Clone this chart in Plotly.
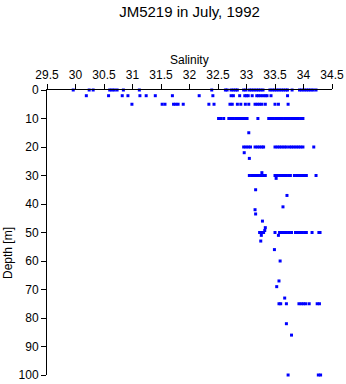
import plotly.graph_objects as go

# Salinity readings grouped by sampling depth [m]
sal_0 = [29.96, 30.24, 30.31, 30.6, 30.64, 30.68, 30.73, 30.84, 31.12, 32.39, 32.63, 32.66,
         32.73, 32.77, 32.81, 32.84, 32.95, 32.99, 33.05, 33.09, 33.13, 33.17, 33.21, 33.25,
         33.29, 33.41, 33.45, 33.49, 33.53, 33.57, 33.61, 33.65, 33.69, 33.72, 33.8, 33.93,
         33.97, 34.01, 34.05, 34.09, 34.13, 34.17, 34.22]
sal_2 = [30.19, 30.58, 30.82, 30.92, 31.13, 31.24, 31.4, 31.7, 32.17, 32.41, 32.73, 32.77,
         32.88, 32.97, 33.0, 33.03, 33.1, 33.18, 33.21, 33.25, 33.29, 33.33, 33.36, 33.43, 33.72]
sal_5 = [30.99, 31.52, 31.57, 31.72, 31.76, 31.8, 31.89, 32.34, 32.43, 32.71, 32.75, 32.84,
         32.9, 32.98, 33.04, 33.15, 33.19, 33.23, 33.27, 33.33, 33.5, 33.56, 33.73]
sal_10 = [32.51, 32.55, 32.6, 32.69, 32.73, 32.77, 32.81, 32.85, 32.89, 32.93, 32.97, 33.01,
          33.2, 33.39, 33.43, 33.47, 33.51, 33.55, 33.59, 33.63, 33.67, 33.71, 33.75, 33.79,
          33.83, 33.87, 33.91, 33.95, 33.99]
sal_20 = [32.95, 32.99, 33.03, 33.07, 33.15, 33.19, 33.23, 33.27, 33.3, 33.5, 33.54, 33.58,
          33.62, 33.66, 33.7, 33.75, 33.79, 33.83, 33.87, 33.91, 33.95, 33.99, 34.18]
sal_30 = [33.05, 33.09, 33.13, 33.17, 33.21, 33.25, 33.29, 33.33, 33.5, 33.54, 33.58, 33.62,
          33.66, 33.7, 33.74, 33.77, 33.84, 33.88, 33.92, 33.96, 34.0, 34.05, 34.22]
sal_50 = [33.23, 33.27, 33.3, 33.5, 33.58, 33.62, 33.66, 33.7, 33.74, 33.79, 33.86, 33.9,
          33.94, 33.98, 34.02, 34.05, 34.15, 34.27, 34.29]
sal_75 = [33.57, 33.6, 33.7, 33.92, 33.96, 34.0, 34.04, 34.1, 34.24, 34.28]
sal_100 = [33.73, 34.26, 34.3]

# Isolated readings between standard depths
single_depth = [15, 22, 24, 29, 31, 35, 37, 41, 42, 43.5, 46, 48.3, 49.3, 51, 51, 53, 56,
                60, 67, 69, 73, 82, 86]
single_sal = [33.04, 32.96, 33.05, 33.27, 33.52, 33.16, 33.71, 33.64, 33.15, 33.16, 33.28,
              33.33, 33.32, 33.26, 33.56, 33.25, 33.49, 33.59, 33.57, 33.53, 33.67, 33.7, 33.79]

groups = [(0, sal_0), (2, sal_2), (5, sal_5), (10, sal_10), (20, sal_20), (30, sal_30),
          (50, sal_50), (75, sal_75), (100, sal_100)]

xs, ys = [], []
for d, vals in groups:
    xs += vals
    ys += [d] * len(vals)
xs += single_sal
ys += single_depth

x_ticks = [29.5, 30, 30.5, 31, 31.5, 32, 32.5, 33, 33.5, 34, 34.5]
y_ticks = [0, 10, 20, 30, 40, 50, 60, 70, 80, 90, 100]

FONT = "Liberation Sans, Arial, sans-serif"
W, H = 346, 384
L, R, T, B = 47, 14, 90, 9
PH = H - T - B
PW = W - L - R

fig = go.Figure()
fig.add_trace(go.Scatter(
    x=xs, y=ys, mode="markers",
    marker=dict(symbol="square", size=3, color="#0000ff", line=dict(width=0)),
    cliponaxis=False, hoverinfo="x+y", showlegend=False,
))

fig.update_layout(
    width=W, height=H, autosize=False,
    margin=dict(l=L, r=R, t=T, b=B, pad=0, autoexpand=False),
    paper_bgcolor="white", plot_bgcolor="white",
    font=dict(family=FONT, size=12, color="black"),
    title=dict(text="JM5219 in July, 1992", x=0.5, xref="paper", xanchor="center",
               y=1 - 12 / H, yanchor="middle", yref="container", automargin=False,
               font=dict(size=15, family=FONT, color="black")),
    xaxis=dict(side="top", range=[29.5, 34.5], tickvals=x_ticks,
               ticktext=[f"{v:g}" for v in x_ticks], automargin=False,
               showline=True, linecolor="black", linewidth=1,
               ticks="outside", ticklen=5, tickcolor="black", tickwidth=1,
               showgrid=False, zeroline=False,
               tickfont=dict(size=12, family=FONT, color="black")),
    yaxis=dict(range=[100, 0], tickvals=y_ticks, automargin=False,
               showline=True, linecolor="black", linewidth=1,
               ticks="outside", ticklen=5, tickcolor="black", tickwidth=1,
               showgrid=False, zeroline=False,
               tickfont=dict(size=12, family=FONT, color="black")),
    annotations=[
        dict(text="Salinity", xref="paper", yref="paper", x=0.5, y=(H - B - 60) / PH,
             xanchor="center", yanchor="middle", showarrow=False,
             font=dict(size=12, family=FONT, color="black")),
        dict(text="Depth [m]", xref="paper", yref="paper", x=-(L - 8) / PW,
             y=(H - B - 253) / PH, xanchor="center", yanchor="middle", textangle=-90,
             showarrow=False, font=dict(size=12, family=FONT, color="black")),
    ],
)

fig.write_html("out.html")
